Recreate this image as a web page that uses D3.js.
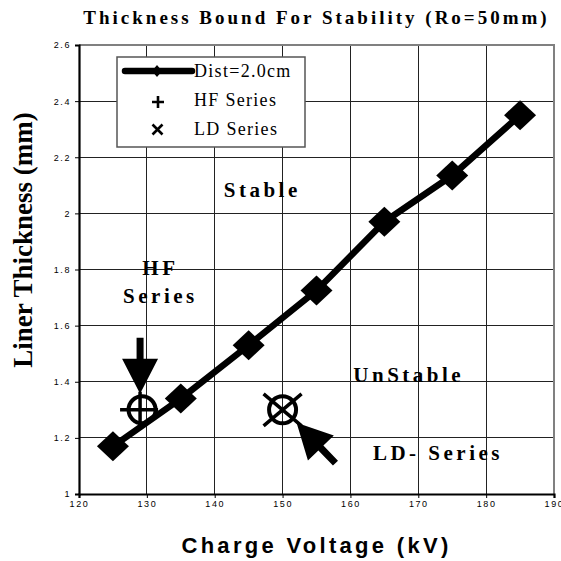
<!DOCTYPE html>
<meta charset="utf-8">
<script src="https://cdn.jsdelivr.net/npm/d3@7"></script>
<style>
    body { margin: 0; background: #fff; }
    .serif { font-family: "Liberation Serif", "Times New Roman", serif; font-weight: bold; }
    .sans { font-family: "Liberation Sans", Arial, sans-serif; }
    .tick-label { font-size: 9px; letter-spacing: 1.6px; fill: #000; }
    .grid { stroke: #222; stroke-width: 1; shape-rendering: crispEdges; }
</style>
<body>
<svg class="chart"></svg>
<script>
    ///////////////////////
    // Data
    var voltage = [125, 135, 145, 155, 165, 175, 185];
    var thickness = [1.17, 1.34, 1.53, 1.725, 1.97, 2.135, 2.35];

    var hfVoltage = [129];
    var hfThickness = [1.30];

    var ldVoltage = [150];
    var ldThickness = [1.30];

    var xTicks = [120, 130, 140, 150, 160, 170, 180, 190];
    var yTicks = [1, 1.2, 1.4, 1.6, 1.8, 2, 2.2, 2.4, 2.6];
    var yTickLabels = ["1", "1.2", "1.4", "1.6", "1.8", "2", "2.2", "2.4", "2.6"];

    var legendLabels = ["Dist=2.0cm", "HF Series", "LD Series"];

    // text annotations in data space
    var noteText = ["Stable", "HF", "Series", "UnStable", "LD- Series"];
    var noteX = [147, 132, 132, 168.6, 172.9];
    var noteY = [2.06, 1.78, 1.68, 1.40, 1.12];

    ///////////////////////
    // Chart Size Setup
    var W = 561, H = 561;
    var margin = { top: 45, right: 7, bottom: 67, left: 79 };

    var svg = d3.select(".chart")
        .attr("width", W)
        .attr("height", H);

    svg.append("rect").attr("width", W).attr("height", H).attr("fill", "#fff");

    var x = d3.scaleLinear().domain([120, 190]).range([margin.left, W - margin.right]);
    var y = d3.scaleLinear().domain([1, 2.6]).range([H - margin.bottom, margin.top]);

    var x0 = x.range()[0], x1 = x.range()[1];
    var y0 = y.range()[0], y1 = y.range()[1];

    ///////////////////////
    // Grid
    svg.append("g").selectAll("line")
        .data(xTicks.slice(1, -1))
        .enter().append("line")
        .attr("class", "grid")
        .attr("x1", function(d) { return x(d); })
        .attr("x2", function(d) { return x(d); })
        .attr("y1", y1).attr("y2", y0);

    svg.append("g").selectAll("line")
        .data(yTicks.slice(1, -1))
        .enter().append("line")
        .attr("class", "grid")
        .attr("y1", function(d) { return y(d); })
        .attr("y2", function(d) { return y(d); })
        .attr("x1", x0).attr("x2", x1);

    // top + right border (grey)
    svg.append("path")
        .attr("d", "M" + x0 + "," + y1 + "H" + x1 + "V" + y0)
        .attr("fill", "none")
        .attr("stroke", "#808080")
        .attr("stroke-width", 2);

    ///////////////////////
    // Axes
    var xAxis = d3.axisBottom(x).tickValues(xTicks).tickSize(4).tickPadding(3);
    var yAxis = d3.axisLeft(y).tickValues(yTicks).tickSize(4).tickPadding(4)
        .tickFormat(function(d, i) { return yTickLabels[i]; });

    var gx = svg.append("g")
        .attr("transform", "translate(0," + y0 + ")")
        .call(xAxis);
    var gy = svg.append("g")
        .attr("transform", "translate(" + x0 + ",0)")
        .call(yAxis);

    [gx, gy].forEach(function(g) {
        g.select(".domain").attr("stroke", "#000").attr("stroke-width", 2.2);
        g.selectAll(".tick line").attr("stroke", "#000").attr("stroke-width", 1);
        g.selectAll(".tick text")
            .attr("class", "sans tick-label")
            .attr("fill", "#000");
    });

    ///////////////////////
    // Titles
    svg.append("text")
        .attr("class", "serif")
        .attr("x", (x0 + x1) / 2)
        .attr("y", 24)
        .attr("text-anchor", "middle")
        .style("font-size", "19px")
        .style("letter-spacing", "3px")
        .text("Thickness Bound For Stability (Ro=50mm)");

    svg.append("text")
        .attr("class", "sans")
        .attr("x", (x0 + x1) / 2)
        .attr("y", 553)
        .attr("text-anchor", "middle")
        .style("font-size", "22px")
        .style("font-weight", "bold")
        .style("letter-spacing", "3.3px")
        .text("Charge Voltage (kV)");

    svg.append("text")
        .attr("class", "serif")
        .attr("transform", "translate(32,240) rotate(-90)")
        .attr("text-anchor", "middle")
        .style("font-size", "27px")
        .text("Liner Thickness (mm)");

    ///////////////////////
    // Annotation text
    svg.append("g").selectAll("text")
        .data(noteText)
        .enter().append("text")
        .attr("class", "serif")
        .attr("x", function(d, i) { return x(noteX[i]); })
        .attr("y", function(d, i) { return y(noteY[i]); })
        .attr("text-anchor", "middle")
        .style("font-size", "21px")
        .style("letter-spacing", "3.5px")
        .text(function(d) { return d; });

    ///////////////////////
    // Main series: line + diamonds
    var pts = voltage.map(function(v, i) { return [v, thickness[i]]; });

    var line = d3.line()
        .x(function(d) { return x(d[0]); })
        .y(function(d) { return y(d[1]); });

    svg.append("path")
        .datum(pts)
        .attr("fill", "none")
        .attr("stroke", "#000")
        .attr("stroke-width", 6.5)
        .attr("stroke-linejoin", "round")
        .attr("d", line);

    function diamond(hx, hy) {
        return "M0," + (-hy) + "L" + hx + ",0L0," + hy + "L" + (-hx) + ",0Z";
    }

    svg.append("g").selectAll("path")
        .data(pts)
        .enter().append("path")
        .attr("d", diamond(16, 15))
        .attr("fill", "#000")
        .attr("transform", function(d) {
            return "translate(" + x(d[0]) + "," + y(d[1]) + ")";
        });

    ///////////////////////
    // HF / LD markers with circles and arrows
    var arrow = "M0,0L18,35L3.5,35L3.5,56L-3.5,56L-3.5,35L-18,35Z";

    hfVoltage.forEach(function(v, i) {
        var cx = x(v), cy = y(hfThickness[i]);
        svg.append("circle")
            .attr("cx", cx + 2).attr("cy", cy).attr("r", 13.5)
            .attr("fill", "none").attr("stroke", "#000").attr("stroke-width", 4);
        svg.append("path")
            .attr("d", "M" + (cx - 20) + "," + cy + "H" + (cx + 18) +
                "M" + cx + "," + (cy - 18) + "V" + (cy + 16))
            .attr("stroke", "#000").attr("stroke-width", 3.5);
        svg.append("path")
            .attr("d", arrow)
            .attr("fill", "#000")
            .attr("transform", "translate(" + cx + "," + (cy - 16) + ") rotate(180)");
    });

    ldVoltage.forEach(function(v, i) {
        var cx = x(v), cy = y(ldThickness[i]);
        svg.append("circle")
            .attr("cx", cx).attr("cy", cy).attr("r", 13.5)
            .attr("fill", "none").attr("stroke", "#000").attr("stroke-width", 4);
        svg.append("path")
            .attr("d", "M" + (cx - 19) + "," + (cy + 16) + "L" + (cx + 19) + "," + (cy - 16) +
                "M" + (cx - 19) + "," + (cy - 16) + "L" + (cx + 19) + "," + (cy + 16))
            .attr("stroke", "#000").attr("stroke-width", 3.5);
        svg.append("path")
            .attr("d", arrow)
            .attr("fill", "#000")
            .attr("transform", "translate(" + (cx + 14) + "," + (cy + 13) + ") rotate(-44)");
    });

    ///////////////////////
    // Legend
    var lg = svg.append("g").attr("transform", "translate(117,57)");
    lg.append("rect")
        .attr("width", 188).attr("height", 90)
        .attr("fill", "#fff")
        .attr("stroke", "#555").attr("stroke-width", 1.5);

    lg.append("line")
        .attr("x1", 8).attr("x2", 75).attr("y1", 14).attr("y2", 14)
        .attr("stroke", "#000").attr("stroke-width", 6.5).attr("stroke-linecap", "round");
    lg.append("path")
        .attr("d", diamond(5, 6))
        .attr("fill", "#000")
        .attr("transform", "translate(40,14)");

    lg.append("path")
        .attr("d", "M35,45H47M41,39V51")
        .attr("stroke", "#000").attr("stroke-width", 2.6);
    lg.append("path")
        .attr("d", "M35.5,67.5L45.5,77.5M45.5,67.5L35.5,77.5")
        .attr("stroke", "#000").attr("stroke-width", 2.6);

    lg.selectAll("text.lab")
        .data(legendLabels)
        .enter().append("text")
        .attr("class", "lab")
        .attr("x", 77)
        .attr("y", function(d, i) { return 20 + i * 29; })
        .style("font-family", '"Liberation Serif", "Times New Roman", serif')
        .style("font-size", "18px")
        .style("letter-spacing", "1.3px")
        .text(function(d) { return d; });
</script>
</body>
